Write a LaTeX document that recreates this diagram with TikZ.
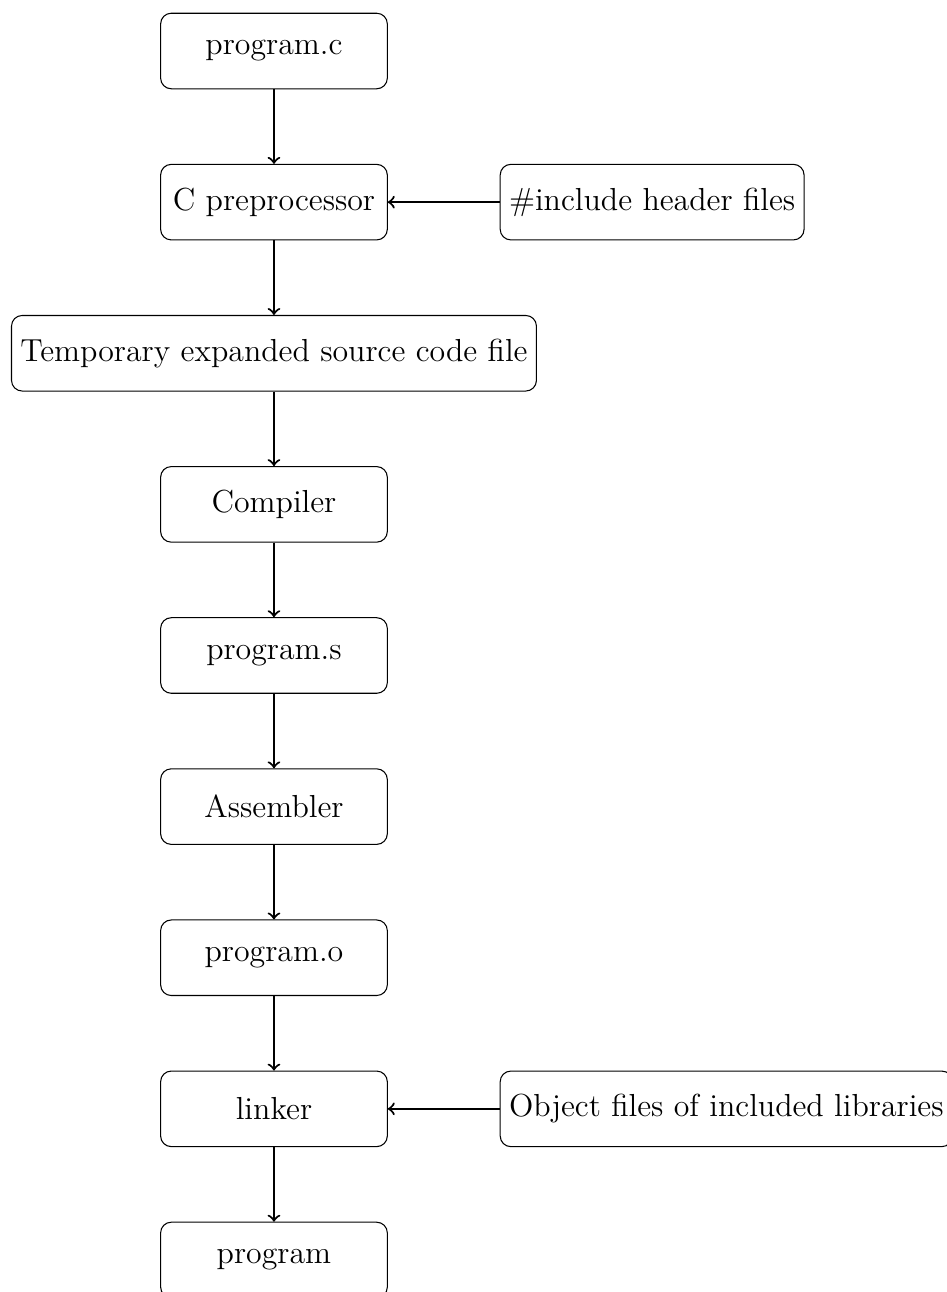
\documentclass[tikz,border=0pt]{standalone}
\usetikzlibrary{positioning}
\begin{document}
\begin{tikzpicture}[
  stagebox/.style={draw, rounded corners, minimum width=3cm, minimum height=1cm,
                   align=center, font=\large},
  flow/.style={->, thick}
]
\useasboundingbox (-3.626,0.675) rectangle (8.894,-16.424);
\node[stagebox] (pc)   at (0,0)   {program.c};
\node[stagebox] (cpp)  at (0,-2)  {C preprocessor};
\node[stagebox] (tmp)  at (0,-4)  {Temporary expanded source code file};
\node[stagebox] (comp) at (0,-6)  {Compiler};
\node[stagebox] (ps)   at (0,-8)  {program.s};
\node[stagebox] (asm)  at (0,-10) {Assembler};
\node[stagebox] (po)   at (0,-12) {program.o};
\node[stagebox] (link) at (0,-14) {linker};
\node[stagebox] (prog) at (0,-16) {program};
\node[stagebox, right=1.48cm of cpp]  (hdr) {\#include header files};
\node[stagebox, right=1.48cm of link] (lib) {Object files of included libraries};

\draw[flow] (pc) -- (cpp);
\draw[flow] (cpp) -- (tmp);
\draw[flow] (tmp) -- (comp);
\draw[flow] (comp) -- (ps);
\draw[flow] (ps) -- (asm);
\draw[flow] (asm) -- (po);
\draw[flow] (po) -- (link);
\draw[flow] (link) -- (prog);
\draw[flow] (hdr) -- (cpp);
\draw[flow] (lib) -- (link);
\end{tikzpicture}
\end{document}
